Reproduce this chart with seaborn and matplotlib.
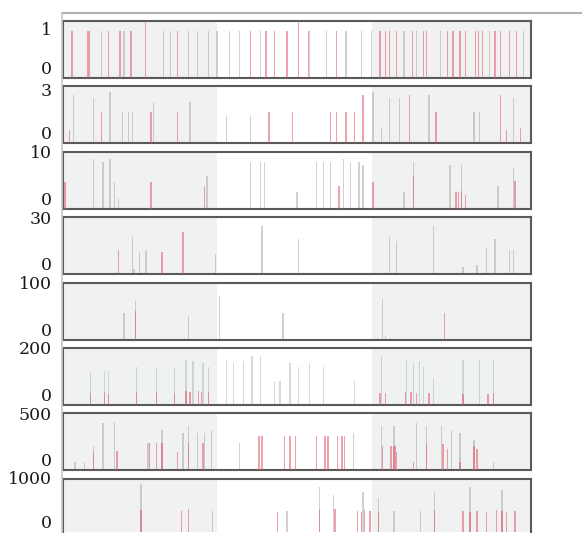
import matplotlib
matplotlib.use("Agg")
import matplotlib.pyplot as plt
from matplotlib.lines import Line2D
import seaborn as sns
import numpy as np

sns.set_theme(style="white")
plt.rcParams["font.family"] = ["DejaVu Serif"]

# ---- data (x in 0..100 position units) ----
ymax_ticks = [1, 3, 10, 30, 100, 200, 500, 1000]
ylim_tops = [1.2, 3.3, 10.3, 31, 103, 205, 515, 1060]

p1_red_x = [1.9, 5.4, 5.5, 9.7, 12.2, 14.7, 17.5, 17.6, 24.6, 40.0, 43.5, 45.3, 47.8, 50.3, 50.4,
            52.4, 58.5, 67.7, 68.8, 69.9, 71.3, 74.5, 77.0, 77.7, 82.0, 83.4, 84.8, 85.9,
            88.0, 88.7, 89.5, 92.3, 93.4, 95.2, 96.9]
p1_red_y = [1] * len(p1_red_x)
p1_gray_x = [8.3, 13.2, 21.4, 22.9, 26.8, 28.6, 31.1, 32.8, 35.7, 37.8, 42.1, 52.8, 56.3,
             60.6, 63.8, 66.0, 72.7, 75.6, 80.6, 91.2, 98.4]
p1_gray_y = [1] * len(p1_gray_x)

p2_red_x = [1.5, 8.3, 18.7, 24.4, 44.0, 49.2, 57.1, 58.3, 60.6, 62.4, 64.2, 74.0, 79.7, 93.4, 94.8, 97.6]
p2_red_y = [0.8, 1.8, 1.8, 1.8, 1.8, 1.8, 1.8, 1.8, 1.8, 1.8, 2.8, 2.8, 1.8, 2.8, 0.8, 0.9]
p2_gray_x = [2.2, 6.5, 10.0, 12.9, 14.0, 15.0, 19.3, 27.1, 35.0, 40.0, 66.3, 68.1, 69.9,
             72.0, 78.1, 87.7, 89.1, 96.2]
p2_gray_y = [2.8, 2.6, 3.0, 1.8, 1.8, 1.8, 2.4, 2.4, 1.6, 1.6, 3.0, 0.9, 2.6, 2.6, 2.8, 1.8, 1.8, 2.6]

p3_red_x = [0.4, 18.7, 30.1, 59.0, 66.3, 74.9, 83.8, 84.5, 85.2, 85.9, 96.6]
p3_red_y = [4.8, 4.8, 4.2, 4.2, 4.8, 6.0, 3.0, 3.0, 3.3, 2.5, 5.1]
p3_gray_x = [6.5, 8.6, 10.0, 11.1, 11.8, 30.7, 40.0, 42.1, 43.2, 49.9, 54.2, 55.6, 57.1,
             59.9, 61.3, 63.1, 64.2, 72.7, 74.9, 82.7, 85.2, 93.0, 96.2]
p3_gray_y = [9.0, 8.5, 9.0, 4.8, 1.8, 6.0, 8.5, 8.5, 8.5, 3.0, 8.5, 8.5, 8.5, 9.0, 8.5,
             8.5, 7.9, 3.0, 8.5, 7.9, 7.9, 4.2, 7.3]

p4_red_x = [11.8, 21.1, 25.7]
p4_red_y = [13, 12, 23]
p4_gray_x = [15.0, 15.1, 16.5, 17.5, 18.0, 32.5, 42.5, 50.3, 69.9, 71.3, 79.1, 85.5, 88.4,
             90.5, 92.3, 95.2, 96.2]
p4_gray_y = [20, 3, 12, 12, 13, 11, 26, 19, 20, 18, 26, 4, 5, 14, 19, 13, 13]

p5_red_x = [15.6, 81.4]
p5_red_y = [51, 48]
p5_gray_x = [13.2, 15.6, 26.8, 33.5, 47.1, 68.4, 68.8]
p5_gray_y = [48, 70, 42, 79, 48, 73, 6]

p6_red_x = [5.8, 9.0, 9.7, 15.7, 20.0, 24.0, 26.4, 27.1, 28.9, 29.6, 31.1, 67.7, 68.8,
            73.1, 74.2, 75.6, 78.1, 85.5, 90.9, 92.0]
p6_red_y = [42, 45, 40, 48, 46, 44, 50, 48, 50, 48, 46, 44, 42, 45, 46, 44, 42, 40, 38, 42]
p6_gray_x = [5.8, 9.0, 9.7, 15.7, 20.0, 24.0, 26.4, 27.9, 30.0, 31.1, 35.0, 36.4, 38.5,
             40.3, 42.1, 45.3, 46.4, 48.5, 50.3, 52.8, 55.6, 62.4, 68.1, 73.4, 74.9, 76.0,
             77.0, 79.1, 85.5, 89.1, 92.0]
p6_gray_y = [118, 124, 124, 137, 137, 137, 163, 157, 150, 137, 163, 150, 157, 176, 176,
             85, 85, 150, 137, 150, 137, 85, 176, 163, 150, 157, 137, 98, 163, 163, 163]

p7_red_x = [6.5, 11.5, 18.4, 20.0, 21.1, 24.6, 26.8, 30.0, 41.95, 42.5, 47.4, 48.5, 49.6,
            54.2, 56.0, 56.7, 58.8, 59.5, 60.3, 68.4, 70.2, 70.6, 70.9, 71.3, 74.9, 77.7,
            81.3, 82.0, 84.8, 87.7, 88.4]
p7_red_y = [162, 176, 250, 250, 250, 162, 250, 250, 309, 309, 309, 309, 309, 309, 309,
            309, 309, 309, 309, 220, 220, 220, 220, 162, 74, 250, 235, 191, 74, 220, 191]
p7_gray_x = [2.6, 4.7, 6.5, 8.6, 11.1, 18.2, 21.1, 25.7, 26.8, 28.6, 30.3, 31.8, 37.8,
             62.0, 68.1, 70.6, 75.6, 77.7, 81.0, 83.0, 84.8, 87.7, 92.0]
p7_gray_y = [74, 74, 220, 426, 441, 250, 368, 338, 397, 338, 338, 368, 250, 338, 397,
             397, 426, 397, 397, 368, 338, 279, 74]

p8_red_x = [16.8, 25.4, 26.8, 45.7, 54.9, 58.1, 62.8, 63.8, 64.5, 65.6, 67.4, 79.5, 85.5,
            87.0, 88.4, 90.5, 92.7, 93.7, 94.8, 96.6]
p8_red_y = [420, 400, 430, 380, 420, 430, 400, 380, 420, 400, 380, 420, 400, 380, 400,
            380, 420, 400, 380, 400]
p8_gray_x = [16.8, 32.1, 47.8, 54.9, 57.8, 64.2, 67.4, 70.6, 76.3, 79.5, 87.0, 93.7]
p8_gray_y = [900, 400, 400, 850, 700, 750, 650, 400, 400, 750, 850, 800]

red_xs = [p1_red_x, p2_red_x, p3_red_x, p4_red_x, p5_red_x, p6_red_x, p7_red_x, p8_red_x]
red_ys = [p1_red_y, p2_red_y, p3_red_y, p4_red_y, p5_red_y, p6_red_y, p7_red_y, p8_red_y]
gray_xs = [p1_gray_x, p2_gray_x, p3_gray_x, p4_gray_x, p5_gray_x, p6_gray_x, p7_gray_x, p8_gray_x]
gray_ys = [p1_gray_y, p2_gray_y, p3_gray_y, p4_gray_y, p5_gray_y, p6_gray_y, p7_gray_y, p8_gray_y]

shade_spans = [(0, 33), (66, 100)]

# ---- figure ----
W, H = 582, 533
fig = plt.figure(figsize=(W / 100, H / 100), dpi=100)
fig.patch.set_facecolor("white")

# outer light frame (top and left)
fig.add_artist(Line2D([62 / W, 1.0], [1 - 13 / H, 1 - 13 / H], color="#b0b0b0", lw=1.5))
fig.add_artist(Line2D([62 / W, 62 / W], [1 - 13 / H, 0.0], color="#c8c8c8", lw=1.2))

left_px, right_px = 63, 531
panel_h = 57
for i in range(8):
    top_px = 21 + 65.4 * i
    h_px = panel_h if i < 7 else 53
    ax = fig.add_axes([left_px / W, 1 - (top_px + h_px) / H,
                       (right_px - left_px) / W, h_px / H])
    ax.set_facecolor("white")
    for a, b in shade_spans:
        ax.axvspan(a, b, color="#f0f2f2", lw=0, zorder=0)
    gcol = "#aeb6c2" if i == 5 else "#a4a4a4"
    sns.histplot(x=gray_xs[i], weights=gray_ys[i], binwidth=0.3, binrange=(0, 100),
                 color=gcol, alpha=0.5, linewidth=0, ax=ax, zorder=2)
    sns.histplot(x=red_xs[i], weights=red_ys[i], binwidth=0.3, binrange=(0, 100),
                 color="#e25468", alpha=0.55, linewidth=0, ax=ax, zorder=3)
    ax.set_xlim(0, 100)
    top = ylim_tops[i] if i < 7 else ylim_tops[i] * 53 / 57 * 1.02
    ax.set_ylim(0, top)
    ax.set_xlabel("")
    ax.set_ylabel("")
    ax.set_xticks([])
    ax.set_yticks([0, ymax_ticks[i]])
    ax.set_yticklabels(["0", str(ymax_ticks[i])], fontsize=12.5, color="#1a1a1a")
    labs = ax.get_yticklabels()
    labs[0].set_va("bottom")
    labs[1].set_va("center")
    ax.tick_params(axis="y", length=0, pad=8)
    for s in ax.spines.values():
        s.set_visible(True)
        s.set_color("#5a5a5a")
        s.set_linewidth(1.5)
    if i == 7:
        ax.spines["bottom"].set_visible(False)

fig.savefig("out.png", dpi=100, facecolor="white")
